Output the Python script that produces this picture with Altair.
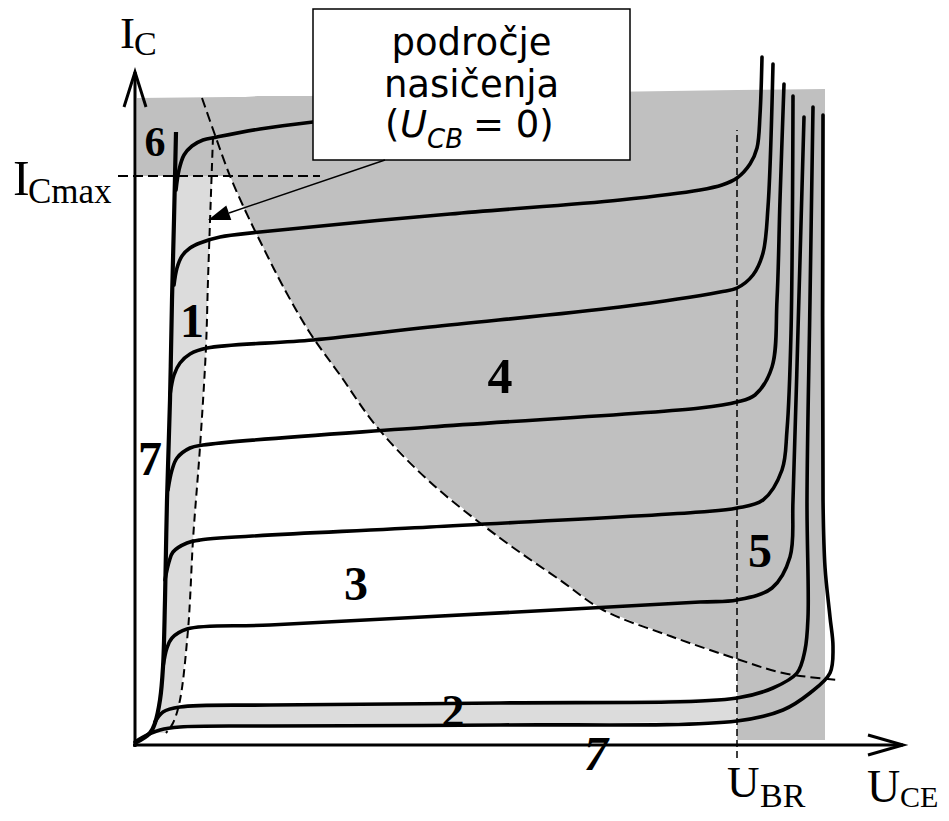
import altair as alt
import pandas as pd

# Diagram units: U along the U_CE axis, I along the I_C axis, origin at the axes corner
# ---------------- characteristic curves ----------------
ENVELOPE_U = [0, 15, 20, 25, 28, 30, 32, 35, 37, 39, 41]
ENVELOPE_I = [2, 12, 22, 45, 78, 145, 245, 345, 445, 525, 613]

CURVE_A_U = [41, 44, 49, 57, 68, 82, 125, 178, 315, 425]
CURVE_A_I = [555, 575, 590, 599, 605, 608, 616, 623, 637, 648]

CURVE_B_U = [39, 42, 47, 55, 65, 85, 125, 315, 485, 565, 587, 602, 615, 622, 625, 627]
CURVE_B_I = [460, 477, 489, 497, 502, 508, 513, 531, 545, 555, 560, 567, 581, 597, 630, 688]

CURVE_C_U = [35, 39, 45, 55, 72, 178, 295, 485, 585, 602, 618, 628, 633, 638]
CURVE_C_I = [350, 370, 382, 391, 397, 405, 418, 438, 453, 457, 470, 492, 538, 681]

CURVE_D_U = [33, 37, 42, 55, 68, 295, 565, 602, 620, 637, 642, 645, 649]
CURVE_D_I = [255, 275, 287, 297, 300, 318, 337, 343, 350, 378, 445, 545, 661]

CURVE_E_U = [30, 34, 38, 52, 65, 295, 565, 602, 628, 647, 652, 656, 658]
CURVE_E_I = [165, 183, 193, 202, 205, 218, 233, 237, 245, 275, 315, 412, 649]

CURVE_F_U = [28, 32, 37, 52, 135, 382, 565, 602, 637, 655, 658, 663, 669]
CURVE_F_I = [78, 97, 107, 116, 120, 133, 143, 145, 157, 188, 245, 415, 628]

CURVE_G_U = [20, 28, 45, 135, 365, 602, 638, 662, 670, 673, 672, 675, 678]
CURVE_G_I = [23, 33, 38, 40, 42, 47, 57, 72, 95, 128, 245, 445, 638]

CURVE_H_U = [0, 8, 25, 45, 135, 365, 602, 648, 675, 695, 698, 695, 690, 688, 688]
CURVE_H_I = [3, 8, 15, 18, 19, 20, 24, 35, 52, 72, 98, 128, 178, 245, 630]

# ---------------- dashed limit lines ----------------
POWER_U = [67, 80, 95, 110, 123, 150, 175, 205, 242, 295, 365, 425, 468, 535, 602, 648, 702]
POWER_I = [647, 610, 569, 535, 508, 455, 412, 370, 318, 263, 207, 165, 135, 109, 86, 72, 65]

SAT_U = [78, 73, 71, 65, 58, 55, 53, 45, 38, 31]
SAT_I = [608, 465, 398, 298, 205, 145, 115, 45, 22, 12]

ICMAX_U = [-17, 185]
ICMAX_I = [569, 569]

UBR_U = [602, 602]
UBR_I = [-13, 615]

# ---------------- shaded regions ----------------
DARK_U = [2, 95, 110, 123, 150, 175, 205, 242, 295, 365, 425, 468, 535, 602, 602, 690]
DARK_TOP = [647, 648, 648, 649, 649, 649, 650, 650, 651, 652, 652, 653, 654, 655, 655, 656]
DARK_BOT = [569, 569, 535, 508, 455, 412, 370, 318, 263, 207, 165, 135, 109, 86, 5, 5]

LIGHT_V_I = [569, 465, 398, 298, 205, 145, 115, 78, 45, 22, 12]
LIGHT_V_LEFT = [40, 37.5, 36, 33, 31, 30, 29.5, 28, 25, 20, 15]
LIGHT_V_RIGHT = [77, 73, 71, 65, 58, 55, 53, 49, 45, 38, 31]

LIGHT_H_U = [20, 28, 45, 135, 365, 602]
LIGHT_H_TOP = [23, 33, 38, 40, 42, 47]
LIGHT_H_BOT = [14, 16, 18, 19, 20, 24]

# ---------------- axes ----------------
AXES = {
    "x_axis": ([-2, 768], [0, 0]),
    "y_axis": ([0, 0], [-2, 673]),
    "x_head": ([733, 768, 733], [10, 0, -10]),
    "y_head": ([-11, 0, 11], [638, 673, 638]),
}

# ---------------- labels ----------------
REGION_TEXT = ["6", "1", "7", "4", "3", "5", "2"]
REGION_U = [20, 57, 15, 365, 221, 625, 318]
REGION_I = [589, 408, 270, 352, 145, 178, 18]
REGION_SIZE = [42, 48, 48, 50, 48, 48, 46]

REGION7B_TEXT = ["7"]
REGION7B_U = [461]
REGION7B_I = [-25]

AXLAB_TEXT = ["I", "C", "I", "Cmax", "U", "BR", "U", "CE"]
AXLAB_U = [-15, -1, -122, -107, 592, 625, 732, 765]
AXLAB_I = [697, 690, 550, 542, -52, -62, -57, -62]
AXLAB_SIZE = [45, 34, 50, 35, 45, 34, 46, 30]

BOX_U = [178, 495]
BOX_I = [585, 736]
BOX_LINES = ["področje", "nasičenja"]
BOX_LINES_U = [336.5, 336.5]
BOX_LINES_I = [690, 648]
BOX_L3_TEXT = ["(", "= 0)"]
BOX_L3_U = [250, 338]
BOX_L3_I = [608, 608]
BOX_IT_TEXT = ["U", "CB"]
BOX_IT_U = [265, 292]
BOX_IT_I = [608, 597]
BOX_IT_SIZE = [37, 26]

LEADER_U = [250, 94]
LEADER_I = [585, 532]
ARROW_TIP_U = [73]
ARROW_TIP_I = [525]

# ---------------- build ----------------
XS = alt.Scale(domain=[-127, 806], nice=False, zero=False)
YS = alt.Scale(domain=[-68, 737], nice=False, zero=False)


def X(f):
    return alt.X(f, type="quantitative", scale=XS, axis=None)


def Y(f):
    return alt.Y(f, type="quantitative", scale=YS, axis=None)


def lines_df(d):
    rows = []
    for name, (us, iv) in d.items():
        for k, (u, i) in enumerate(zip(us, iv)):
            rows.append({"name": name, "k": k, "U": u, "I": i})
    return pd.DataFrame(rows)


curves = lines_df({
    "A": (CURVE_A_U, CURVE_A_I), "B": (CURVE_B_U, CURVE_B_I),
    "C": (CURVE_C_U, CURVE_C_I), "D": (CURVE_D_U, CURVE_D_I),
    "E": (CURVE_E_U, CURVE_E_I), "F": (CURVE_F_U, CURVE_F_I),
    "G": (CURVE_G_U, CURVE_G_I), "H": (CURVE_H_U, CURVE_H_I),
})
envelope = lines_df({"env": (ENVELOPE_U, ENVELOPE_I)})
axes_df = lines_df(AXES)

dark = pd.DataFrame({"U": DARK_U, "I": DARK_TOP, "I2": DARK_BOT})
light_v = pd.DataFrame({"I": LIGHT_V_I, "U": LIGHT_V_LEFT, "U2": LIGHT_V_RIGHT})
light_h = pd.DataFrame({"U": LIGHT_H_U, "I": LIGHT_H_TOP, "I2": LIGHT_H_BOT})

dark_layer = alt.Chart(dark).mark_area(color="#c0c0c0", opacity=1).encode(
    x=X("U"), y=Y("I"), y2=alt.Y2("I2"))
light_v_layer = alt.Chart(light_v).mark_area(color="#dcdcdc", opacity=1, orient="horizontal").encode(
    y=Y("I"), x=X("U"), x2=alt.X2("U2"))
light_h_layer = alt.Chart(light_h).mark_area(color="#dcdcdc", opacity=1).encode(
    x=X("U"), y=Y("I"), y2=alt.Y2("I2"))


def dashed(us, iv, dash, w, interp="linear"):
    df = lines_df({"d": (us, iv)})
    return alt.Chart(df).mark_line(color="black", strokeDash=dash, strokeWidth=w,
                                   interpolate=interp).encode(
        x=X("U"), y=Y("I"), order=alt.Order("k:Q"))


power_layer = dashed(POWER_U, POWER_I, [10, 5], 2, "catmull-rom")
sat_layer = dashed(SAT_U, SAT_I, [8, 5], 2, "catmull-rom")
icmax_layer = dashed(ICMAX_U, ICMAX_I, [10, 5], 2)
ubr_layer = dashed(UBR_U, UBR_I, [7, 4], 1.5)

curve_layer = alt.Chart(curves).mark_line(color="black", strokeWidth=3.6,
                                          interpolate="catmull-rom", strokeCap="round").encode(
    x=X("U"), y=Y("I"), detail="name:N", order=alt.Order("k:Q"))
env_layer = alt.Chart(envelope).mark_line(color="black", strokeWidth=4.2,
                                          interpolate="catmull-rom", strokeCap="butt").encode(
    x=X("U"), y=Y("I"), order=alt.Order("k:Q"))
axes_layer = alt.Chart(axes_df).mark_line(color="black", strokeWidth=3,
                                          strokeJoin="miter").encode(
    x=X("U"), y=Y("I"), detail="name:N", order=alt.Order("k:Q"))

regions = pd.DataFrame({"t": REGION_TEXT, "U": REGION_U, "I": REGION_I, "s": REGION_SIZE})
region_layer = alt.Chart(regions).mark_text(font="Liberation Serif", fontWeight="bold",
                                            align="center", baseline="alphabetic",
                                            color="black").encode(
    x=X("U"), y=Y("I"), text="t:N", size=alt.Size("s:Q", scale=None))
region7b = pd.DataFrame({"t": REGION7B_TEXT, "U": REGION7B_U, "I": REGION7B_I})
region7b_layer = alt.Chart(region7b).mark_text(font="Liberation Serif", fontWeight="bold",
                                               fontStyle="italic", fontSize=48,
                                               align="center", baseline="alphabetic",
                                               color="black").encode(
    x=X("U"), y=Y("I"), text="t:N")

axlab = pd.DataFrame({"t": AXLAB_TEXT, "U": AXLAB_U, "I": AXLAB_I, "s": AXLAB_SIZE})
axlab_layer = alt.Chart(axlab).mark_text(font="Liberation Serif", align="left",
                                         baseline="alphabetic", color="black").encode(
    x=X("U"), y=Y("I"), text="t:N", size=alt.Size("s:Q", scale=None))

box = pd.DataFrame({"U": [BOX_U[0]], "U2": [BOX_U[1]], "I": [BOX_I[0]], "I2": [BOX_I[1]]})
box_layer = alt.Chart(box).mark_rect(fill="white", stroke="black", strokeWidth=1.5).encode(
    x=X("U"), x2=alt.X2("U2"), y=Y("I"), y2=alt.Y2("I2"))

box_lines = pd.DataFrame({"t": BOX_LINES, "U": BOX_LINES_U, "I": BOX_LINES_I})
box_lines_layer = alt.Chart(box_lines).mark_text(font="DejaVu Sans", fontSize=37,
                                                 align="center", baseline="alphabetic",
                                                 color="black").encode(
    x=X("U"), y=Y("I"), text="t:N")
box_l3 = pd.DataFrame({"t": BOX_L3_TEXT, "U": BOX_L3_U, "I": BOX_L3_I})
box_l3_layer = alt.Chart(box_l3).mark_text(font="DejaVu Sans", fontSize=37,
                                           align="left", baseline="alphabetic",
                                           color="black").encode(
    x=X("U"), y=Y("I"), text="t:N")
box_it = pd.DataFrame({"t": BOX_IT_TEXT, "U": BOX_IT_U, "I": BOX_IT_I, "s": BOX_IT_SIZE})
box_it_layer = alt.Chart(box_it).mark_text(font="DejaVu Sans", fontStyle="italic",
                                           align="left", baseline="alphabetic",
                                           color="black").encode(
    x=X("U"), y=Y("I"), text="t:N", size=alt.Size("s:Q", scale=None))

leader = lines_df({"lead": (LEADER_U, LEADER_I)})
leader_layer = alt.Chart(leader).mark_line(color="black", strokeWidth=1.5).encode(
    x=X("U"), y=Y("I"), order=alt.Order("k:Q"))
tip = pd.DataFrame({"U": ARROW_TIP_U, "I": ARROW_TIP_I})
tip_layer = alt.Chart(tip).mark_point(shape="M0,0L1,-0.35L1,0.35Z", size=1936, angle=341,
                                      filled=True, color="black", opacity=1,
                                      strokeWidth=0).encode(x=X("U"), y=Y("I"))

chart = alt.layer(
    dark_layer, light_v_layer, light_h_layer,
    region_layer, region7b_layer,
    power_layer, sat_layer, icmax_layer, ubr_layer,
    curve_layer, env_layer, axes_layer,
    box_layer, box_lines_layer, box_l3_layer, box_it_layer,
    leader_layer, tip_layer,
    axlab_layer,
).properties(
    width=933, height=805, padding=0,
    autosize=alt.AutoSizeParams(type="none"),
    background="white",
).configure_view(stroke=None)

chart.save("out.html", embed_options={"renderer": "svg", "actions": False})
